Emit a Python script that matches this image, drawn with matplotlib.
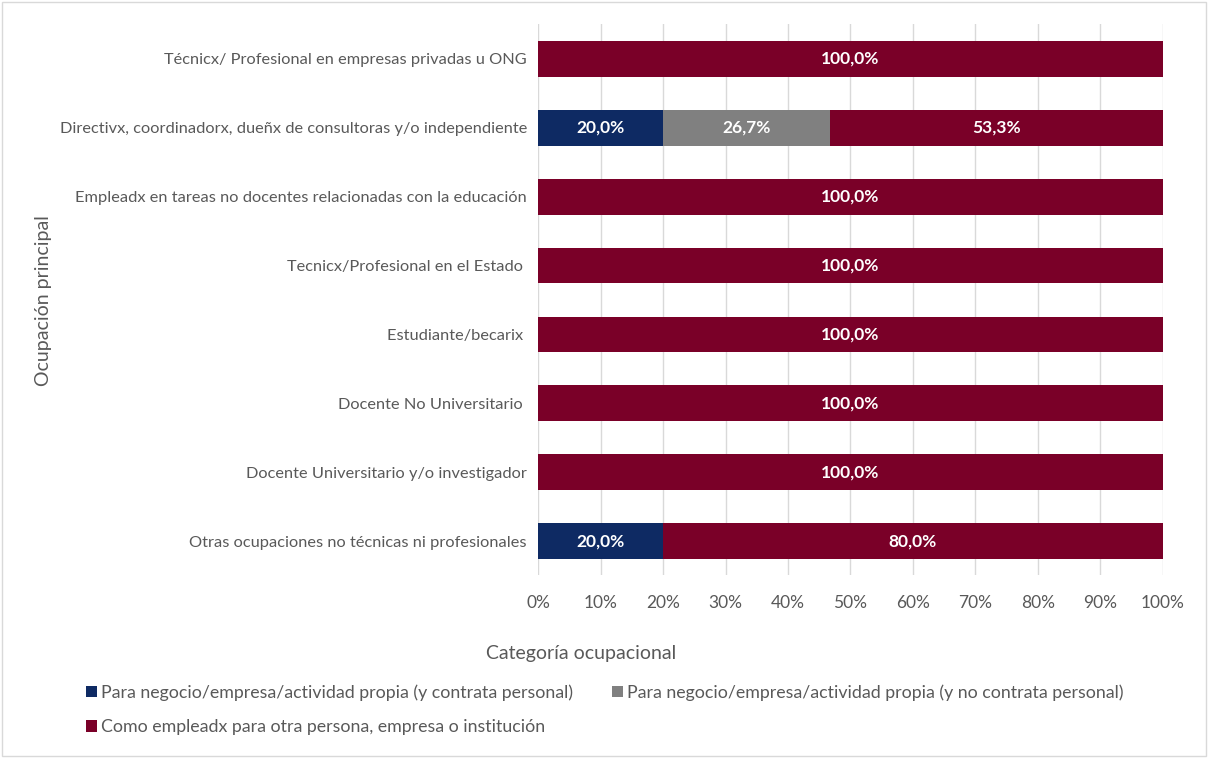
import matplotlib.pyplot as plt
import numpy as np
from matplotlib.patches import Patch

plt.rcParams['font.family'] = ['Lato', 'DejaVu Sans']

categories = [
    "Técnicx/ Profesional en empresas privadas u ONG",
    "Directivx, coordinadorx, dueñx de consultoras y/o independiente",
    "Empleadx en tareas no docentes relacionadas con la educación",
    "Tecnicx/Profesional en el Estado ",
    "Estudiante/becarix ",
    "Docente No Universitario ",
    "Docente Universitario y/o investigador",
    "Otras ocupaciones no técnicas ni profesionales",
]
con_personal = [0, 20.0, 0, 0, 0, 0, 0, 20.0]
sin_personal = [0, 26.7, 0, 0, 0, 0, 0, 0]
empleadx = [100.0, 53.3, 100.0, 100.0, 100.0, 100.0, 100.0, 80.0]

series_names = [
    "Para negocio/empresa/actividad propia (y contrata personal)",
    "Para negocio/empresa/actividad propia (y no contrata personal)",
    "Como empleadx para otra persona, empresa o institución",
]
colors = ["#0e2a63", "#808080", "#7a0028"]
text_color = "#595959"

fig = plt.figure(figsize=(12.08, 7.58), dpi=100)
ax = fig.add_axes([0.4454, 0.2408, 0.5173, 0.7269])

y = np.arange(len(categories))
left = np.zeros(len(categories))
for vals, col in zip([con_personal, sin_personal, empleadx], colors):
    vals = np.array(vals)
    bars = ax.barh(y, vals, left=left, height=0.52, color=col, zorder=3)
    for b, v in zip(bars, vals):
        if v > 0:
            ax.text(b.get_x() + b.get_width() / 2, b.get_y() + b.get_height() / 2,
                    f"{v:.1f}%".replace(".", ","), ha="center", va="center",
                    color="white", fontsize=12.5, fontweight="bold", zorder=4)
    left += vals

ax.set_xlim(0, 100)
ax.set_ylim(len(categories) - 0.5, -0.5)
ax.set_yticks(y)
ax.set_yticklabels(categories, fontsize=11.8, color=text_color)
ax.set_xticks(np.arange(0, 101, 10))
ax.set_xticklabels([f"{t}%" for t in range(0, 101, 10)], fontsize=12.5, color=text_color)
ax.tick_params(length=0, pad=8)
ax.tick_params(axis="x", pad=14)
ax.grid(axis="x", color="#d9d9d9", linewidth=1, zorder=0)
for s in ax.spines.values():
    s.set_visible(False)

fig.text(581 / 1208, 1 - 654 / 758, "Categoría ocupacional", ha="center", va="center",
         fontsize=14, color=text_color)
fig.text(44 / 1208, 1 - 301 / 758, "Ocupación principal", ha="center", va="center",
         rotation=90, fontsize=14, color=text_color)

handles = [Patch(facecolor=c) for c in colors]
order = [0, 2, 1]
fig.legend([handles[i] for i in order], [series_names[i] for i in order],
           loc="upper left", bbox_to_anchor=(70 / 1208, 1 - 668 / 758), ncol=2,
           frameon=False, fontsize=12.8, labelcolor=text_color,
           handlelength=0.6, handleheight=0.6, handletextpad=0.25,
           columnspacing=2.2, labelspacing=1.05)

fig.add_artist(plt.Rectangle((0.002, 0.002), 0.996, 0.996, transform=fig.transFigure,
                             fill=False, edgecolor="#d9d9d9", linewidth=1))

fig.savefig("out.png", dpi=100)
